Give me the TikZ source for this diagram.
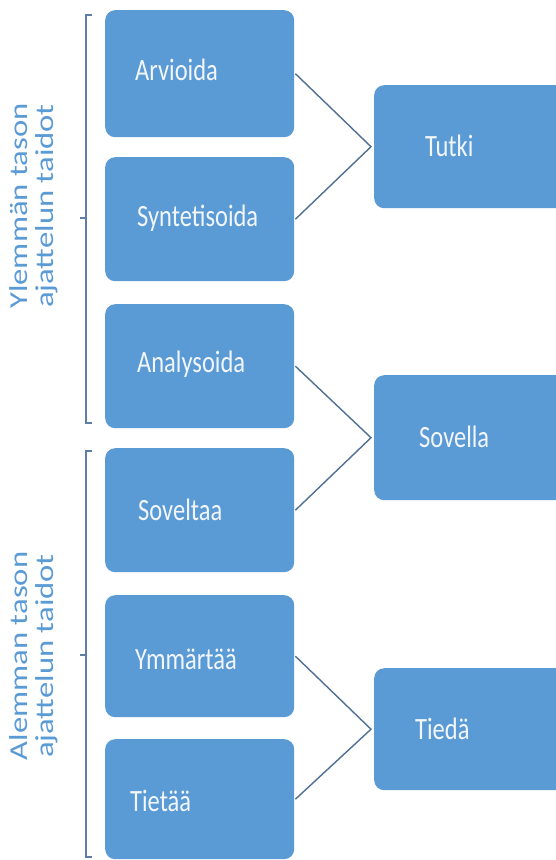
\documentclass[tikz,border=0pt]{standalone}
\usepackage{fontspec}
\setmainfont{Carlito}
\definecolor{boxblue}{HTML}{5B9BD5}
\definecolor{linec}{HTML}{4F6F93}
\definecolor{brc}{HTML}{5D7FA6}
\definecolor{txtc}{HTML}{F2F6FB}
\newcommand{\cond}[1]{\scalebox{0.79}[1]{#1}}
\newcommand{\sidetxt}[2]{\scalebox{1}[0.79]{\begin{tabular}{@{}c@{}}#1\\#2\end{tabular}}}
\begin{document}
\begin{tikzpicture}[x=1pt,y=-1pt,
  box/.style={fill=boxblue, rounded corners=10pt, anchor=north west, inner sep=0pt},
  lbox/.style={box, minimum width=189pt},
  rbox/.style={box, minimum width=200pt},
  boxtext/.style={anchor=base west, inner sep=0pt, text=txtc, font=\fontsize{31}{34}\selectfont},
  side/.style={rotate=90, inner sep=0pt, text=boxblue, font=\fontsize{32.7}{33}\selectfont},
  conn/.style={draw=linec, line width=1.4pt},
  brk/.style={draw=brc, line width=1.4pt}]
\clip (0,0) rectangle (556,860);
\fill[white] (0,0) rectangle (556,860);
% left boxes
\node[lbox, minimum height=127pt] (arv) at (105,10) {};
\node[lbox, minimum height=124pt] (syn) at (105,157) {};
\node[lbox, minimum height=124pt] (ana) at (105,304) {};
\node[lbox, minimum height=124pt] (sov) at (105,448) {};
\node[lbox, minimum height=122pt] (ymm) at (105,595) {};
\node[lbox, minimum height=120pt] (tie) at (105,739) {};
% right boxes
\node[rbox, minimum height=123pt] (tut) at (374,85) {};
\node[rbox, minimum height=125pt] (sol) at (374,375) {};
\node[rbox, minimum height=122pt] (tid) at (374,668) {};
% texts
\node[boxtext] (arvt) at (135,80) {\cond{Arvioida}};
\node[boxtext] (synt) at (137,226) {\cond{Syntetisoida}};
\node[boxtext] (anat) at (137,372) {\cond{Analysoida}};
\node[boxtext] (sovt) at (138,520) {\cond{Soveltaa}};
\node[boxtext] (ymmt) at (135,669) {\cond{Ymmärtää}};
\node[boxtext] (tiet) at (130,811) {\cond{Tietää}};
\node[boxtext] (tutt) at (425,156) {\cond{Tutki}};
\node[boxtext] (solt) at (419,447) {\cond{Sovella}};
\node[boxtext] (tidt) at (415,739) {\cond{Tiedä}};
% connectors
\coordinate (tutin) at ([xshift=-3pt]tut.west);
\coordinate (solin) at ([xshift=-3pt]sol.west);
\coordinate (tidin) at ([xshift=-3pt]tid.west);
\draw[conn] ([xshift=1pt]arv.east) -- (tutin) -- ([xshift=1pt]syn.east);
\draw[conn] ([xshift=1pt]ana.east) -- (solin) -- ([xshift=1pt]sov.east);
\draw[conn] ([xshift=1pt]ymm.east) -- (tidin) -- ([xshift=1pt]tie.east);
% brackets
\coordinate (u1) at (92,15); \coordinate (u2) at (86,15);
\coordinate (u3) at (86,423); \coordinate (u4) at (92,423);
\coordinate (um) at (86,218); \coordinate (ut) at (80,218);
\draw[brk] (u1) -- (u2) -- (u3) -- (u4);
\draw[brk] (um) -- (ut);
\coordinate (l1) at (92,451); \coordinate (l2) at (86,451);
\coordinate (l3) at (86,857); \coordinate (l4) at (92,857);
\coordinate (lm) at (86,655); \coordinate (lt) at (80,655);
\draw[brk] (l1) -- (l2) -- (l3) -- (l4);
\draw[brk] (lm) -- (lt);
% side labels
\node[side] (upl) at (35,206) {\sidetxt{Ylemmän tason}{ajattelun taidot}};
\node[side] (lol) at (35,656) {\sidetxt{Alemman tason}{ajattelun taidot}};
\end{tikzpicture}
\end{document}
